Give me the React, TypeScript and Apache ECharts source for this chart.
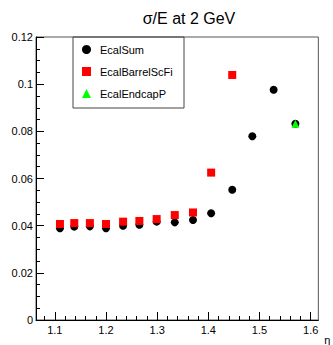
import React, { useEffect, useRef } from "react";
import * as echarts from "echarts";

const titleText = "σ/E at 2 GeV";
const seriesNames = ["EcalSum", "EcalBarrelScFi", "EcalEndcapP"];

const etaSum = [1.11, 1.138, 1.1685, 1.2, 1.2334, 1.2652, 1.299, 1.3344, 1.37, 1.4055, 1.4467, 1.4859, 1.5276, 1.5701];
const resSum = [0.0389, 0.0396, 0.0397, 0.0389, 0.04, 0.0404, 0.0417, 0.0414, 0.0424, 0.0453, 0.0552, 0.0779, 0.0976, 0.0832];

const etaBarrel = [1.11, 1.138, 1.1685, 1.2, 1.2334, 1.2652, 1.299, 1.3344, 1.37, 1.4055, 1.4467];
const resBarrel = [0.0407, 0.0411, 0.0411, 0.0407, 0.0417, 0.042, 0.0428, 0.0445, 0.0456, 0.0625, 0.1039];

const etaEndcap = [1.5701];
const resEndcap = [0.0832];

const xMajorTicks = [1.1, 1.2, 1.3, 1.4, 1.5, 1.6];
const xMinorTicks = [1.08, 1.12, 1.14, 1.16, 1.18, 1.22, 1.24, 1.26, 1.28, 1.32, 1.34, 1.36, 1.38, 1.42, 1.44, 1.46, 1.48, 1.52, 1.54, 1.56, 1.58];

const X_MIN = 1.0632;
const X_MAX = 1.615;

const zip = (xs: number[], ys: number[]) => xs.map((x, i) => [x, ys[i]]);

export default function App() {
  const ref = useRef<HTMLDivElement>(null);
  useEffect(() => {
    if (!ref.current) return;
    const chart = echarts.init(ref.current, null, { renderer: "svg" });
    const font = "Liberation Sans, Arial, Helvetica, sans-serif";
    chart.setOption({
      animation: false,
      backgroundColor: "#ffffff",
      title: {
        text: titleText,
        left: 184,
        top: 5,
        textAlign: "center",
        textStyle: { fontFamily: font, fontSize: 16, fontWeight: "normal", color: "#000" },
      },
      legend: {
        orient: "vertical",
        left: 82,
        top: 44,
        padding: 0,
        itemGap: 11,
        itemWidth: 9,
        itemHeight: 9,
        data: seriesNames,
        textStyle: { fontFamily: font, fontSize: 11, color: "#000", padding: [0, 0, 0, 4] },
      },
      grid: {
        left: 36,
        right: 2,
        top: 37,
        bottom: 23,
        show: true,
        borderColor: "#555",
        borderWidth: 1,
        containLabel: false,
      },
      xAxis: [
        {
          type: "value",
          min: X_MIN,
          max: X_MAX,
          position: "bottom",
          name: "η",
          nameLocation: "end",
          nameGap: -2,
          nameTextStyle: {
            fontFamily: font,
            fontSize: 11,
            color: "#000",
            align: "right",
            verticalAlign: "top",
            padding: [14, 0, 0, 0],
          },
          axisLine: { show: true, lineStyle: { color: "#000", width: 1 } },
          axisTick: { show: true, inside: true, length: 8, customValues: xMajorTicks, lineStyle: { color: "#000" } },
          axisLabel: {
            customValues: xMajorTicks,
            margin: 4,
            fontFamily: font,
            fontSize: 11,
            color: "#000",
            formatter: (v: number) => String(Math.round(v * 10) / 10),
          },
          splitLine: { show: false },
        },
        {
          type: "value",
          min: X_MIN,
          max: X_MAX,
          position: "bottom",
          axisLine: { show: false },
          axisTick: { show: true, inside: true, length: 4, customValues: xMinorTicks, lineStyle: { color: "#000" } },
          axisLabel: { show: false },
          splitLine: { show: false },
        },
      ],
      yAxis: {
        type: "value",
        min: 0,
        max: 0.12,
        interval: 0.02,
        axisLine: { show: true, lineStyle: { color: "#000", width: 1 } },
        axisTick: { show: true, inside: true, length: 8, lineStyle: { color: "#000" } },
        minorTick: { show: true, splitNumber: 4, length: 4, lineStyle: { color: "#000" } },
        axisLabel: { margin: 3, fontFamily: font, fontSize: 11, color: "#000" },
        splitLine: { show: false },
        minorSplitLine: { show: false },
      },
      series: [
        {
          name: seriesNames[0],
          type: "scatter",
          xAxisIndex: 0,
          symbol: "circle",
          symbolSize: 8,
          itemStyle: { color: "#000000", opacity: 1 },
          data: zip(etaSum, resSum),
        },
        {
          name: seriesNames[1],
          type: "scatter",
          xAxisIndex: 0,
          symbol: "rect",
          symbolSize: 8,
          itemStyle: { color: "#ff0000", opacity: 1 },
          data: zip(etaBarrel, resBarrel),
        },
        {
          name: seriesNames[2],
          type: "scatter",
          xAxisIndex: 0,
          symbol: "triangle",
          symbolSize: 8,
          itemStyle: { color: "#00ff00", opacity: 1 },
          data: zip(etaEndcap, resEndcap),
        },
      ],
      graphic: [
        {
          type: "rect",
          shape: { x: 73, y: 37, width: 111, height: 71 },
          style: { fill: "none", stroke: "#444", lineWidth: 1 },
          z: 0,
        },
      ],
    });
    return () => chart.dispose();
  }, []);
  return (
    <div
      ref={ref}
      style={{ position: "fixed", left: 0, top: 0, width: 333, height: 345 }}
    />
  );
}
